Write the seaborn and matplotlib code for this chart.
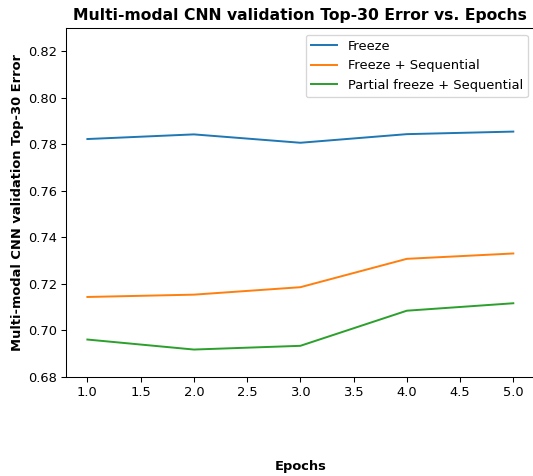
import pandas as pd
import seaborn as sns
import matplotlib
matplotlib.use('Agg')
import matplotlib.pyplot as plt

# valores
epochs = [1, 2, 3, 4, 5]
freeze = [0.7823, 0.7843, 0.7807, 0.7844, 0.7855]
freeze_seq = [0.7144, 0.7154, 0.7186, 0.7308, 0.7331]
partial_seq = [0.6961, 0.6918, 0.6934, 0.7085, 0.7117]
series_names = ['Freeze', 'Freeze + Sequential', 'Partial freeze + Sequential']

df = pd.DataFrame({
    'Epochs': epochs * 3,
    'Error': freeze + freeze_seq + partial_seq,
    'Model': [n for n in series_names for _ in epochs],
})

dpi = 94
fig = plt.figure(figsize=(533 / dpi, 476 / dpi), dpi=dpi)
ax = fig.add_axes([0.124, 0.208, 0.879, 0.733])
sns.lineplot(data=df, x='Epochs', y='Error', hue='Model', ax=ax)
ax.set_ylim(0.68, 0.83)
ax.set_xlabel('Epochs', fontweight='bold', labelpad=47)
ax.set_ylabel('Multi-modal CNN validation Top-30 Error', fontweight='bold', labelpad=3)
ax.set_title('Multi-modal CNN validation Top-30 Error vs. Epochs', fontweight='bold', fontsize=12)
ax.legend(title=None, loc='upper right')
fig.savefig('out.png', dpi=dpi)
